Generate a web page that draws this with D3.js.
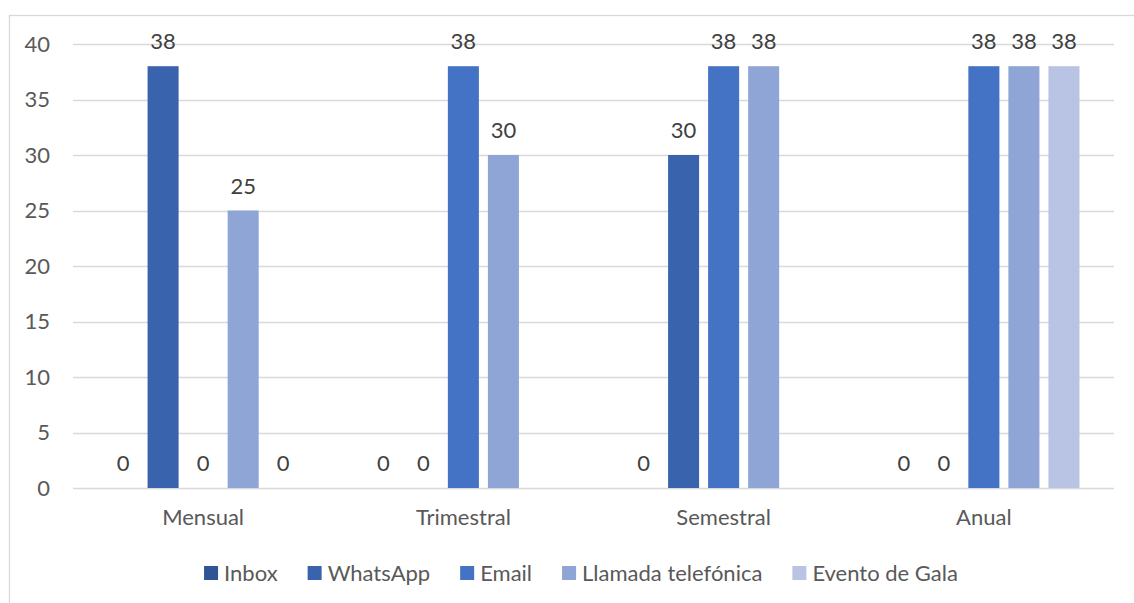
<!DOCTYPE html>
<html>
<head>
<meta charset="utf-8">
<script src="https://cdn.jsdelivr.net/npm/d3@7/dist/d3.min.js"></script>
<style>
  html, body { margin: 0; padding: 0; background: #fff; }
  svg { display: block; font-family: Lato, "Open Sans", sans-serif; }
</style>
</head>
<body>
<svg id="chart" width="1134" height="603"></svg>
<script>
// Periodicity of contact, per channel
const categories = ["Mensual", "Trimestral", "Semestral", "Anual"];
const seriesNames = ["Inbox", "WhatsApp", "Email", "Llamada telefónica", "Evento de Gala"];
const inbox     = [0, 0, 0, 0];
const whatsapp  = [38, 0, 30, 0];
const email     = [0, 38, 38, 38];
const llamada   = [25, 30, 38, 38];
const evento    = [0, null, null, 38];
const yTicks = [0, 5, 10, 15, 20, 25, 30, 35, 40];
const colors = ["#2F5597", "#3A63AD", "#4472C4", "#8FA5D5", "#B9C4E4"];

const seriesValues = [inbox, whatsapp, email, llamada, evento];
const FS = 22;

const svg = d3.select("#chart");
const W = 1134, H = 603;
const margin = { left: 73, right: 20, top: 44, bottom: 115 };
const plotW = W - margin.left - margin.right;
const plotH = H - margin.top - margin.bottom;

// Chart area frame
svg.append("rect")
  .attr("x", 9.5).attr("y", 15.5)
  .attr("width", W + 10).attr("height", H + 10)
  .attr("fill", "#fff").attr("stroke", "#D9D9D9").attr("stroke-width", 1.3);

const g = svg.append("g").attr("transform", `translate(${margin.left},${margin.top})`);

const y = d3.scaleLinear().domain([0, 40]).range([plotH, 0]);
const x0 = d3.scaleBand().domain(categories).range([0, plotW]).padding(0);
const bw = x0.bandwidth();
const groupW = bw * 200 / 260;
const x1 = d3.scaleBand().domain(seriesNames)
  .range([(bw - groupW) / 2, (bw + groupW) / 2])
  .paddingInner(0.225).paddingOuter(0.1125);

// Gridlines
g.append("g").selectAll("line").data(yTicks).join("line")
  .attr("x1", 0).attr("x2", plotW)
  .attr("y1", d => Math.round(y(d)) + 0.5).attr("y2", d => Math.round(y(d)) + 0.5)
  .attr("stroke", "#D9D9D9").attr("stroke-width", 1.4);

// Y axis labels
const yAxis = d3.axisLeft(y).tickValues(yTicks).tickSize(0).tickPadding(23);
const ya = g.append("g").call(yAxis);
ya.select(".domain").remove();
ya.selectAll("text").attr("font-size", FS).attr("fill", "#595959")
  .attr("font-family", "Lato, sans-serif");

// X axis labels
const xAxis = d3.axisBottom(x0).tickSize(0).tickPadding(21);
const xa = g.append("g").attr("transform", `translate(0,${plotH})`).call(xAxis);
xa.select(".domain").remove();
xa.selectAll("text").attr("font-size", FS).attr("fill", "#595959")
  .attr("font-family", "Lato, sans-serif");

// Bars and labels
const rows = [];
categories.forEach((c, ci) => {
  seriesNames.forEach((s, si) => {
    const v = seriesValues[si][ci];
    if (v !== null && v !== undefined) rows.push({ c, s, si, v });
  });
});

const groups = g.append("g");
groups.selectAll("rect").data(rows).join("rect")
  .attr("x", d => x0(d.c) + x1(d.s))
  .attr("width", x1.bandwidth())
  .attr("y", d => y(d.v))
  .attr("height", d => plotH - y(d.v))
  .attr("fill", d => colors[d.si]);

groups.selectAll("text").data(rows).join("text")
  .attr("x", d => x0(d.c) + x1(d.s) + x1.bandwidth() / 2)
  .attr("y", d => y(d.v) - 17)
  .attr("text-anchor", "middle")
  .attr("font-size", FS)
  .attr("fill", "#404040")
  .text(d => d.v);

// Legend
const legend = svg.append("g").attr("transform", "translate(0,573)");
const items = legend.selectAll("g").data(seriesNames).join("g");
items.append("rect")
  .attr("width", 14).attr("height", 14).attr("y", -7)
  .attr("fill", (d, i) => colors[i]);
items.append("text")
  .attr("x", 20).attr("y", 0).attr("dy", "0.35em")
  .attr("font-size", FS).attr("fill", "#595959")
  .text(d => d);
let widths = [];
items.each(function () { widths.push(this.getBBox().width); });
const gap = 30;
const total = d3.sum(widths) + gap * (widths.length - 1);
let cx = 581 - total / 2;
items.attr("transform", (d, i) => {
  const t = `translate(${cx},0)`;
  cx += widths[i] + gap;
  return t;
});
</script>
</body>
</html>
